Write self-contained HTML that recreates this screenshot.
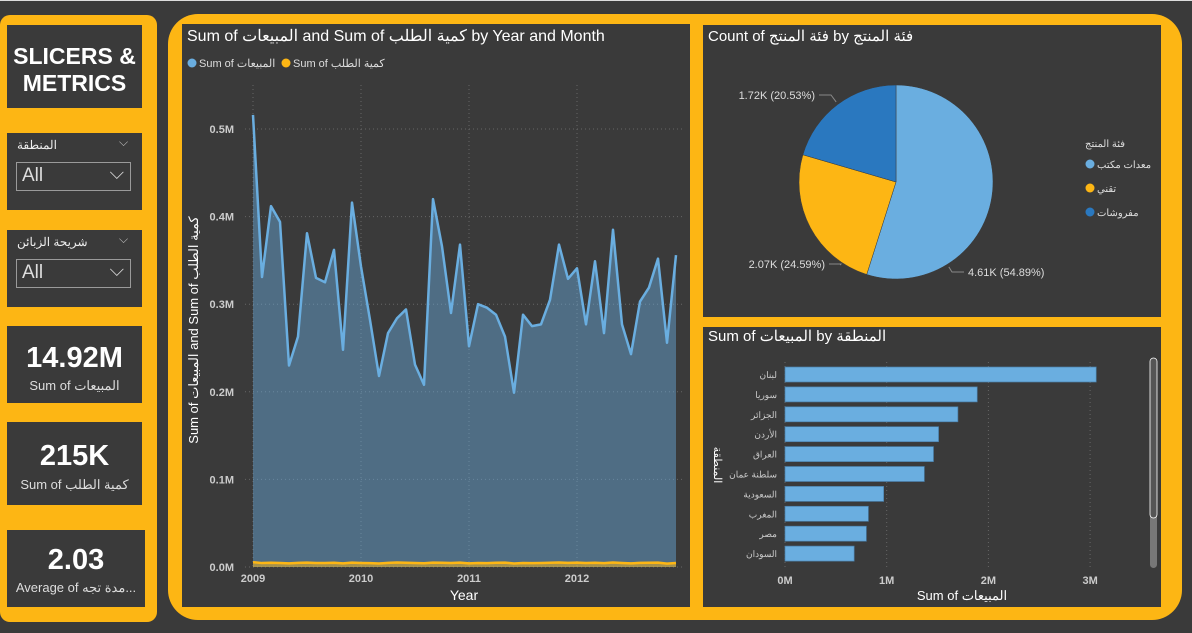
<!DOCTYPE html>
<html><head><meta charset="utf-8">
<style>
body{margin:0;width:1192px;height:633px;background:#3a3a3a;overflow:hidden;position:relative;font-family:"Liberation Sans","Noto Sans CJK SC",sans-serif;color:#fff}
.abs{position:absolute}
.yel{background:#fdb614}
.card{position:absolute;background:#3a3a3a;box-sizing:border-box}
.big{font-weight:bold;text-align:center}
.sl{position:absolute;left:9px;width:115px;height:29px;border:1px solid #9a9a9a;font-size:19px;color:#ddd;box-sizing:border-box;padding:2px 5px}
</style></head><body>
<div class="abs" style="left:0;top:0;width:1192px;height:1px;background:#ddd"></div>
<div class="abs yel" style="left:0;top:15px;width:157px;height:607px;border-radius:10px"></div>
<div class="card big" style="left:7px;top:25px;width:135px;height:83px;font-size:23px;padding-top:18px;line-height:27px">SLICERS &amp;<br>METRICS</div>
<div class="card" style="left:7px;top:133px;width:135px;height:77px">
 <div class="abs" style="left:10px;top:5px;font-size:12px;color:#eee">المنطقة</div>
 <div class="abs" style="left:112px;top:2px;font-size:12px;color:#bbb">⌵</div>
 <div class="sl" style="top:29px">All<span style="position:absolute;right:6px;top:0">⌵</span></div>
</div>
<div class="card" style="left:7px;top:230px;width:135px;height:77px">
 <div class="abs" style="left:10px;top:5px;font-size:12px;color:#eee">شريحة الزبائن</div>
 <div class="abs" style="left:112px;top:2px;font-size:12px;color:#bbb">⌵</div>
 <div class="sl" style="top:29px">All<span style="position:absolute;right:6px;top:0">⌵</span></div>
</div>
<div class="card big" style="left:7px;top:326px;width:135px;height:77px"><div style="font-size:29px;margin-top:16px">14.92M</div><div style="font-size:13px;font-weight:normal;color:#ddd;margin-top:3px">Sum of المبيعات</div></div>
<div class="card big" style="left:7px;top:422px;width:135px;height:83px"><div style="font-size:29px;margin-top:18px">215K</div><div style="font-size:13px;font-weight:normal;color:#ddd;margin-top:4px">Sum of كمية الطلب</div></div>
<div class="card big" style="left:7px;top:530px;width:138px;height:77px"><div style="font-size:29px;margin-top:14px">2.03</div><div style="font-size:13px;font-weight:normal;color:#ddd;margin-top:3px">Average of مدة تجه...</div></div>

<div class="abs yel" style="left:168px;top:14px;width:1014px;height:606px;border-radius:30px"></div>
<div class="card" style="left:182px;top:24px;width:508px;height:583px"></div>
<div class="card" style="left:703px;top:25px;width:458px;height:292px"></div>
<div class="card" style="left:703px;top:327px;width:458px;height:280px"></div>

<svg class="abs" style="left:0;top:0" width="1192" height="633" id="svg">
<g font-family="Liberation Sans, Noto Sans CJK SC, sans-serif">
<text x="187" y="41" font-size="16" fill="#fff">Sum of المبيعات and Sum of كمية الطلب by Year and Month</text>
<circle cx="192" cy="63" r="4.5" fill="#6aaee0"/>
<text x="199" y="67" font-size="11" fill="#ddd">Sum of المبيعات</text>
<circle cx="286" cy="63" r="4.5" fill="#fdb614"/>
<text x="293" y="67" font-size="11" fill="#ddd">Sum of كمية الطلب</text>
<text transform="translate(198,330) rotate(-90)" text-anchor="middle" font-size="13" fill="#fff">Sum of المبيعات and Sum of كمية الطلب</text>
<text x="464" y="600" text-anchor="middle" font-size="14" fill="#fff">Year</text>
<g id="area"></g>
<text x="708" y="41" font-size="15" fill="#fff">Count of فئة المنتج by فئة المنتج</text>
<g id="pie"></g>
<text x="1085" y="147" font-size="10" fill="#ddd">فئة المنتج</text>
<g id="pieleg"></g>
<text x="708" y="341" font-size="15" fill="#fff">Sum of المبيعات by المنطقة</text>
<text transform="translate(714,465) rotate(90)" text-anchor="middle" font-size="11" fill="#fff">المنطقة</text>
<text x="962" y="600" text-anchor="middle" font-size="13" fill="#fff">Sum of المبيعات</text>
<g id="bar"></g>
<rect x="1150" y="358" width="7" height="210" rx="3.5" fill="#777"/>
<rect x="1150" y="358" width="7" height="160" rx="3.5" fill="#555" stroke="#fff" stroke-width="0.8"/>
</g>
</svg>
<script>
const months=["2009-01","2009-02","2009-03","2009-04","2009-05","2009-06","2009-07","2009-08","2009-09","2009-10","2009-11","2009-12","2010-01","2010-02","2010-03","2010-04","2010-05","2010-06","2010-07","2010-08","2010-09","2010-10","2010-11","2010-12","2011-01","2011-02","2011-03","2011-04","2011-05","2011-06","2011-07","2011-08","2011-09","2011-10","2011-11","2011-12","2012-01","2012-02","2012-03","2012-04","2012-05","2012-06","2012-07","2012-08","2012-09","2012-10","2012-11","2012-12"];
const sales=[0.516,0.331,0.412,0.394,0.230,0.263,0.381,0.330,0.325,0.362,0.248,0.416,0.343,0.282,0.218,0.267,0.284,0.294,0.231,0.208,0.420,0.366,0.290,0.368,0.252,0.300,0.296,0.288,0.263,0.199,0.288,0.275,0.277,0.305,0.368,0.329,0.341,0.277,0.349,0.267,0.385,0.277,0.243,0.303,0.319,0.352,0.256,0.356];
const quantity=[0.0055,0.0045,0.0048,0.0046,0.0042,0.0047,0.0050,0.0046,0.0045,0.0048,0.0042,0.0050,0.0046,0.0044,0.0040,0.0047,0.0052,0.0048,0.0045,0.0043,0.0050,0.0048,0.0045,0.0050,0.0042,0.0045,0.0044,0.0048,0.0050,0.0040,0.0045,0.0044,0.0046,0.0048,0.0052,0.0047,0.0050,0.0045,0.0048,0.0044,0.0052,0.0046,0.0042,0.0047,0.0049,0.0050,0.0038,0.0046];
const yTicks=[0,0.1,0.2,0.3,0.4,0.5];
const yTickLabels=["0.0M","0.1M","0.2M","0.3M","0.4M","0.5M"];
const years=["2009","2010","2011","2012"];
const pieLabels=["معدات مكتب","تقني","مفروشات"];
const pieValues=[4.61,2.07,1.72];
const pieText=["4.61K (54.89%)","2.07K (24.59%)","1.72K (20.53%)"];
const regions=["لبنان","سوريا","الجزائر","الأردن","العراق","سلطنة عمان","السعودية","المغرب","مصر","السودان"];
const regionSales=[3.06,1.89,1.70,1.51,1.46,1.37,0.97,0.82,0.80,0.68];
const barTicks=[0,1,2,3];
const barTickLabels=["0M","1M","2M","3M"];

const NS="http://www.w3.org/2000/svg";
function mk(p,t,a){const e=document.createElementNS(NS,t);for(const k in a)e.setAttribute(k,a[k]);p.appendChild(e);return e;}
// area chart
const area=document.getElementById('area');
const ax=i=>253+i*9, ay=v=>567-v*876;
years.forEach((y,i)=>{const x=ax(i*12);
 const l=mk(area,'line',{x1:x,x2:x,y1:85,y2:567,stroke:'#666','stroke-dasharray':'1,3'});
 
 
 const t=mk(area,'text',{x:x,y:582,'text-anchor':'middle','font-size':11,'font-weight':'bold',fill:'#ccc'});t.textContent=y;
 
 });
yTicks.forEach((v,i)=>{const y=ay(v);
 const l=mk(area,'line',{x1:245,x2:683,y1:y,y2:y,stroke:'#666','stroke-dasharray':'1,3'});
 
 
 const t=mk(area,'text',{x:234,y:y+4,'text-anchor':'end','font-size':11,'font-weight':'bold',fill:'#ccc'});t.textContent=yTickLabels[i];
 
 });
let pts=sales.map((v,i)=>ax(i)+','+ay(v)).join(' ');
const af=mk(area,'polygon',{points:ax(0)+','+ay(0)+' '+pts+' '+ax(sales.length-1)+','+ay(0),fill:'#6aaee0','fill-opacity':0.45});


const sl=mk(area,'polyline',{points:pts,fill:'none',stroke:'#6aaee0','stroke-width':2.5,'stroke-linejoin':'round'});


const qp=quantity.map((v,i)=>ax(i)+','+ay(v)).join(' ');
const qa=mk(area,'polygon',{points:ax(0)+','+ay(0)+' '+qp+' '+ax(quantity.length-1)+','+ay(0),fill:'#fdb614','fill-opacity':0.5});


const ql=mk(area,'polyline',{points:qp,fill:'none',stroke:'#fdb614','stroke-width':2.5});


// pie
const pie=document.getElementById('pie');
const cx=896,cy=182,r=97,colors=['#6aaee0','#fdb614','#2a78bf'];
const tot=pieValues.reduce((a,b)=>a+b,0);let a0=0;
const lpos=[[968,276,'start'],[825,268,'end'],[815,99,'end']];
pieValues.forEach((v,i)=>{const a1=a0+v/tot*2*Math.PI;
 const x0=cx+r*Math.sin(a0),y0=cy-r*Math.cos(a0),x1=cx+r*Math.sin(a1),y1=cy-r*Math.cos(a1);
 const p=mk(pie,'path',{d:`M${cx},${cy}L${x0},${y0}A${r},${r} 0 ${a1-a0>Math.PI?1:0} 1 ${x1},${y1}Z`,fill:colors[i],stroke:'#3a3a3a','stroke-width':0.5});
 
 
 const L=lpos[i];
 const lx=L[2]=='start'?L[0]-4:L[0]+4, ly=L[1]-4;
 const elx=L[2]=='start'?lx-12:lx+12;
 const dx=elx-cx,dy=ly-cy,d=Math.hypot(dx,dy);
 const ex=cx+(r+3)*dx/d,ey=cy+(r+3)*dy/d;
 const ln=mk(pie,'polyline',{points:`${ex},${ey} ${elx},${ly} ${lx},${ly}`,fill:'none',stroke:'#888'});
 
 
 const t=mk(pie,'text',{x:L[0],y:L[1],'text-anchor':L[2],'font-size':11,fill:'#ddd'});t.textContent=pieText[i];
 
 
 a0=a1;});
const pl=document.getElementById('pieleg');
pieLabels.forEach((s,i)=>{const y=164+i*24;
 const c=mk(pl,'circle',{cx:1090,cy:y,r:4.5,fill:colors[i]});
 
 
 const t=mk(pl,'text',{x:1097,y:y+4,'font-size':10,fill:'#ddd'});t.textContent=s;
 
 });
// bar
const bar=document.getElementById('bar');
const bx=v=>785+v*101.7;
barTicks.forEach((v,i)=>{const x=bx(v);
 const l=mk(bar,'line',{x1:x,x2:x,y1:362,y2:568,stroke:'#666','stroke-dasharray':'1,3'});
 
 
 const t=mk(bar,'text',{x:x,y:584,'text-anchor':'middle','font-size':11,'font-weight':'bold',fill:'#ccc'});t.textContent=barTickLabels[i];
 
 });
regions.forEach((s,i)=>{const y=374+i*19.9;
 const b=mk(bar,'rect',{x:785,y:y-7,width:bx(regionSales[i])-785,height:15,fill:'#6aaee0',stroke:'#4a7ea8','stroke-width':0.7});
 
 
 const t=mk(bar,'text',{x:777,y:y+4,'text-anchor':'end','font-size':9,fill:'#ccc'});t.textContent=s;
 
 });
</script>
</body></html>
